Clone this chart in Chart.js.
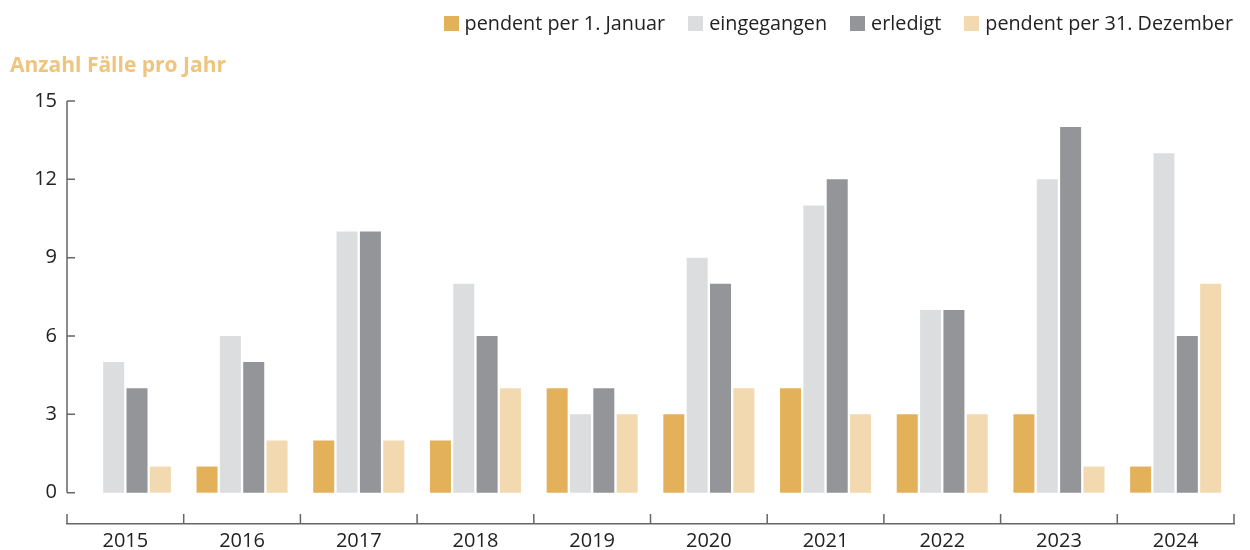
<!DOCTYPE html>
<html>
<head>
<meta charset="utf-8">
<script src="https://cdn.jsdelivr.net/npm/chart.js@4"></script>
<style>
  html, body { margin: 0; padding: 0; background: #fff; }
  #wrap { position: relative; width: 1250px; height: 550px; font-family: 'Open Sans', sans-serif; }
  #chart-title { position: absolute; left: 10px; top: 51px; font-size: 21px; line-height: 26px; font-weight: bold; color: #EFC47D; }
  #legend { position: absolute; right: 17px; top: 11px; display: flex; align-items: center; font-size: 19.8px; line-height: 24px; color: #222; }
  #legend .item { display: flex; align-items: center; margin-left: 23px; }
  #legend .item:first-child { margin-left: 0; }
  #legend .box { width: 15px; height: 15px; margin-right: 6px; }
</style>
</head>
<body>
<div id="wrap">
  <canvas id="faelleChart"></canvas>
  <div id="chart-title">Anzahl Fälle pro Jahr</div>
  <div id="legend"></div>
</div>
<script>
const years = ['2015', '2016', '2017', '2018', '2019', '2020', '2021', '2022', '2023', '2024'];
const pendentJanuar = [0, 1, 2, 2, 4, 3, 4, 3, 3, 1];
const eingegangen = [5, 6, 10, 8, 3, 9, 11, 7, 12, 13];
const erledigt = [4, 5, 10, 6, 4, 8, 12, 7, 14, 6];
const pendentDezember = [1, 2, 2, 4, 3, 4, 3, 3, 1, 8];
const yTicks = [0, 3, 6, 9, 12, 15];

const FONT = 'Open Sans';
const TEXT = '#222222';
const AXIS = '#666666';

// y axis line with inner tick marks, x axis boundary ticks pointing up
const axisDecor = {
    id: 'axisDecor',
    afterDraw(chart) {
        const ctx = chart.ctx;
        const area = chart.chartArea;
        const y = chart.scales.y;
        ctx.save();
        ctx.strokeStyle = AXIS;
        ctx.lineWidth = 1.5;
        ctx.beginPath();
        ctx.moveTo(area.left, y.getPixelForValue(yTicks[yTicks.length - 1]));
        ctx.lineTo(area.left, y.getPixelForValue(0));
        yTicks.forEach(t => {
            const py = y.getPixelForValue(t);
            ctx.moveTo(area.left, py);
            ctx.lineTo(area.left + 8, py);
        });
        const step = (area.right - area.left) / years.length;
        for (let i = 0; i <= years.length; i++) {
            const px = area.left + i * step;
            ctx.moveTo(px, area.bottom);
            ctx.lineTo(px, area.bottom - 10);
        }
        ctx.stroke();
        ctx.restore();
    }
};

const ctx = document.getElementById('faelleChart').getContext('2d');
const chart = new Chart(ctx, {
    type: 'bar',
    data: {
        labels: years,
        datasets: [
            { label: 'pendent per 1. Januar', data: pendentJanuar, backgroundColor: '#E3B159' },
            { label: 'eingegangen', data: eingegangen, backgroundColor: '#DCDDDF' },
            { label: 'erledigt', data: erledigt, backgroundColor: '#949599' },
            { label: 'pendent per 31. Dezember', data: pendentDezember, backgroundColor: '#F2D9AF' }
        ]
    },
    options: {
        responsive: true,
        maintainAspectRatio: false,
        animation: false,
        categoryPercentage: 0.8,
        barPercentage: 0.9,
        layout: { padding: { left: 0, right: 16, top: 101, bottom: 0 } },
        plugins: {
            legend: { display: false },
            title: { display: false },
            tooltip: { enabled: false }
        },
        scales: {
            x: {
                afterFit: scale => { scale.height = 26; },
                grid: { display: false, drawTicks: false },
                border: { display: true, color: AXIS, width: 1.5 },
                ticks: { color: TEXT, padding: 5, font: { family: FONT, size: 20 } }
            },
            y: {
                min: -1.2,
                max: 15,
                afterFit: scale => { scale.width = 67; },
                afterBuildTicks: scale => { scale.ticks = yTicks.map(v => ({ value: v })); },
                grid: { display: false, drawTicks: false },
                border: { display: false },
                ticks: { color: TEXT, padding: 10, font: { family: FONT, size: 20 } }
            }
        }
    },
    plugins: [axisDecor]
});

// legend built from the datasets
const legendEl = document.getElementById('legend');
chart.data.datasets.forEach(ds => {
    const item = document.createElement('div');
    item.className = 'item';
    item.innerHTML = `<span class="box" style="background:${ds.backgroundColor}"></span><span>${ds.label}</span>`;
    legendEl.appendChild(item);
});
</script>
</body>
</html>
